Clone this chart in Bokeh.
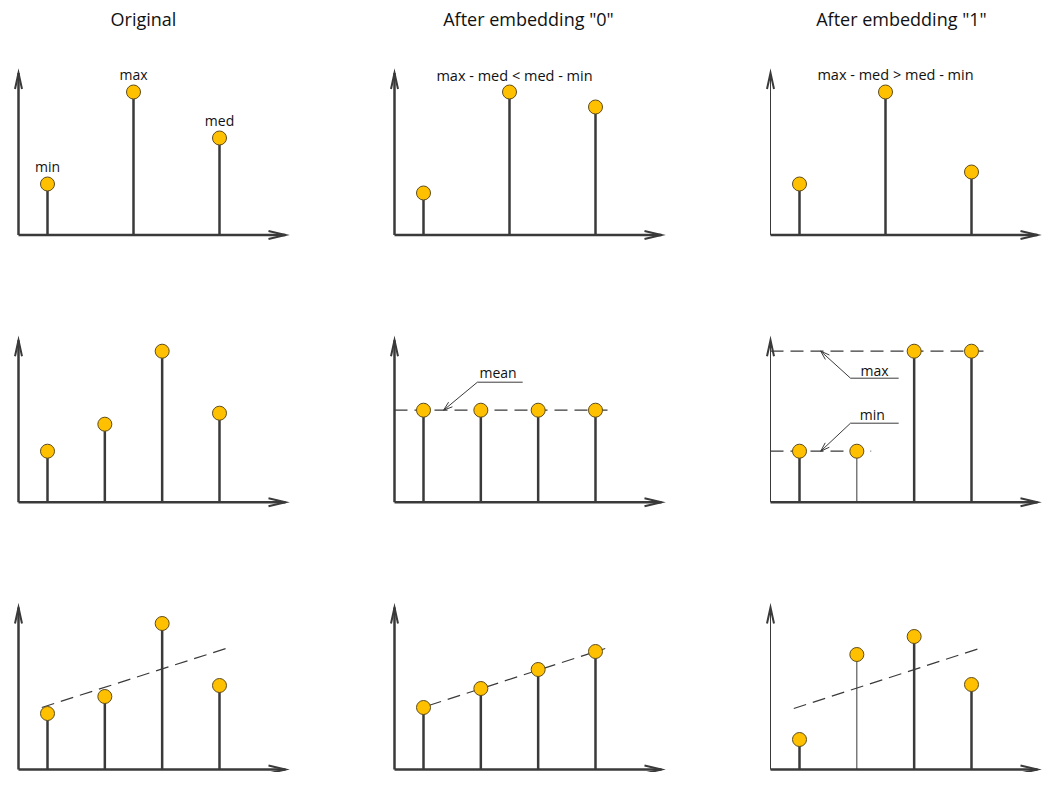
import math
from bokeh.plotting import figure
from bokeh.layouts import column, row
from bokeh.models import Range1d
from bokeh.core.properties import value
from bokeh.embed import file_html
from bokeh.resources import INLINE

# ---------------- data ----------------
titles = ["Original", 'After embedding "0"', 'After embedding "1"']

# row 1: three samples (min / max / med)
x3 = [1, 2, 3]
orig3 = [51, 143, 97]
orig3_labels = ["min", "max", "med"]
emb0_3 = [42, 143, 128]
emb1_3 = [51, 143, 63]
rule0 = "max - med < med - min"
rule1 = "max - med > med - min"

# row 2: four samples (mean / min-max)
x4 = [1, 2, 3, 4]
orig4 = [51, 78, 151, 89]
mean4 = [92, 92, 92, 92]
minmax4 = [51, 51, 151, 151]

# row 3: four samples with trend line
orig_t = [56, 73, 146, 84]
emb0_t = [62, 81, 100, 118]
emb1_t = [30, 115, 133, 85]
trend_orig_x = [0.9, 4.22]
trend_orig_y = [62, 123]
trend0_x = [1.09, 4.17]
trend0_y = [64, 121]
trend1_x = [0.9, 4.19]
trend1_y = [61, 122]

# ---------------- style ----------------
INK = "#3a3a3a"
FILL = "#FFC000"
EDGE = "#5e4c1c"
FONT = value("Open Sans")
DASH = "13 7"

COL_W = [376, 376, 294]
ROW_H = [247, 267, 258]
ROW_BASE = [234.5, 254.7, 255]
SX3 = 86.0
SX4 = 57.33


def make_fig(w, h, sx, base):
    xs = 1 - 47 / sx
    p = figure(width=w, height=h,
               x_range=Range1d(xs, xs + w / sx),
               y_range=Range1d(base - h, base),
               output_backend="svg", toolbar_location=None, tools="",
               x_axis_location=None, y_axis_location=None,
               min_border=0, outline_line_color=None)
    p.xgrid.visible = False
    p.ygrid.visible = False
    p.background_fill_color = "white"
    p.border_fill_color = "white"
    return p


def arrow(p, sx, xa, ya, xb, yb, w, hl, hw, hlw):
    p.line([xa, xb], [ya, yb], line_width=w, line_color=INK)
    dxp = (xb - xa) * sx
    dyp = (yb - ya)
    L = math.hypot(dxp, dyp)
    ux, uy = dxp / L, dyp / L
    bx, by = -ux * hl, -uy * hl
    nx, ny = -uy * hw, ux * hw
    p.line([xb + (bx + nx) / sx, xb, xb + (bx - nx) / sx],
           [yb + (by + ny), yb, yb + (by - ny)],
           line_width=hlw, line_color=INK, line_join="miter")


def axes(p, sx, thin_y=False):
    x0 = 1 - 29 / sx
    arrow(p, sx, x0, 0, x0, 162, 1.0 if thin_y else 2.5, 16, 3.5, 2)
    arrow(p, sx, x0, 0, x0 + 267 / sx, 0, 2.5, 17, 4, 2)
    return x0


def stems(p, xs, vals, widths=None):
    if widths is None:
        widths = [2.5] * len(xs)
    p.segment(x0=xs, y0=[0] * len(xs), x1=xs, y1=vals,
              line_width=widths, line_color=INK)
    p.scatter(xs, vals, size=14, fill_color=FILL, line_color=EDGE, line_width=1)


def title(p, sx, text, rel, base):
    x0 = 1 - 29 / sx
    p.text(x=[x0 + rel / sx], y=[base - 18.5], text=[text], text_font=FONT,
           text_font_size="18px", text_align="center", text_baseline="middle",
           text_color="#111111")


def label(p, xs, ys, texts, dx=0, dy=-18, size="14px"):
    p.text(x=xs, y=ys, text=texts, text_font=FONT, text_font_size=size,
           text_align="center", text_baseline="alphabetic", x_offset=dx, y_offset=dy,
           text_color="#111111")


def leader(p, sx, x_right, x_left, y_line, x_tip, y_tip):
    p.line([x_right, x_left], [y_line, y_line], line_width=1, line_color=INK)
    arrow(p, sx, x_left, y_line, x_tip, y_tip, 1, 9, 3, 1)


# ---- row 1 ----
p1 = make_fig(COL_W[0], ROW_H[0], SX3, ROW_BASE[0])
axes(p1, SX3)
stems(p1, x3, orig3)
label(p1, x3, orig3, orig3_labels)
title(p1, SX3, titles[0], 125, ROW_BASE[0])

p2 = make_fig(COL_W[1], ROW_H[0], SX3, ROW_BASE[0])
axes(p2, SX3)
stems(p2, x3, emb0_3)
imax = emb0_3.index(max(emb0_3))
label(p2, [x3[imax]], [emb0_3[imax]], [rule0], dx=5, dy=-17, size="14.5px")
title(p2, SX3, titles[1], 134, ROW_BASE[0])

p3 = make_fig(COL_W[2], ROW_H[0], SX3, ROW_BASE[0])
axes(p3, SX3, thin_y=True)
stems(p3, x3, emb1_3)
imax = emb1_3.index(max(emb1_3))
label(p3, [x3[imax]], [emb1_3[imax]], [rule1], dx=10, dy=-18, size="14.5px")
title(p3, SX3, titles[2], 131, ROW_BASE[0])

# ---- row 2 ----
p4 = make_fig(COL_W[0], ROW_H[1], SX4, ROW_BASE[1])
axes(p4, SX4)
stems(p4, x4, orig4)

p5 = make_fig(COL_W[1], ROW_H[1], SX4, ROW_BASE[1])
x0 = axes(p5, SX4)
m = sum(mean4) / len(mean4)
p5.line([x0, x4[-1] + 0.33], [m, m], line_width=1.2, line_color=INK, line_dash=DASH)
stems(p5, x4, mean4)
leader(p5, SX4, 2.73, 1.94, 120, 1.35, m)
label(p5, [2.3], [124.5], ["mean"], dy=-5)

p6 = make_fig(COL_W[2], ROW_H[1], SX4, ROW_BASE[1])
x0 = axes(p6, SX4, thin_y=True)
mx, mn = max(minmax4), min(minmax4)
p6.line([x0, x4[-1] + 0.26], [mx, mx], line_width=1.2, line_color=INK, line_dash=DASH)
p6.line([x0, x4[1] + 0.25], [mn, mn], line_width=1.2, line_color=INK, line_dash=DASH)
stems(p6, x4, minmax4, widths=[2.5, 1, 2.5, 2.5])
leader(p6, SX4, 2.73, 1.89, 124, 1.37, mx)
label(p6, [2.31], [127], ["max"], dy=-5)
leader(p6, SX4, 2.73, 1.89, 79, 1.37, mn)
label(p6, [2.27], [83], ["min"], dy=-5)

# ---- row 3 ----
p7 = make_fig(COL_W[0], ROW_H[2], SX4, ROW_BASE[2])
axes(p7, SX4)
p7.line(trend_orig_x, trend_orig_y, line_width=1.2, line_color=INK, line_dash=DASH)
stems(p7, x4, orig_t)

p8 = make_fig(COL_W[1], ROW_H[2], SX4, ROW_BASE[2])
axes(p8, SX4)
p8.line(trend0_x, trend0_y, line_width=1.2, line_color=INK, line_dash=DASH)
stems(p8, x4, emb0_t)

p9 = make_fig(COL_W[2], ROW_H[2], SX4, ROW_BASE[2])
axes(p9, SX4, thin_y=True)
p9.line(trend1_x, trend1_y, line_width=1.2, line_color=INK, line_dash=DASH)
stems(p9, x4, emb1_t, widths=[2.5, 1, 2.5, 2.5])

layout = column(row(p1, p2, p3), row(p4, p5, p6), row(p7, p8, p9))

with open("out.html", "w") as f:
    f.write(file_html(layout, INLINE, title="Stem plots"))
